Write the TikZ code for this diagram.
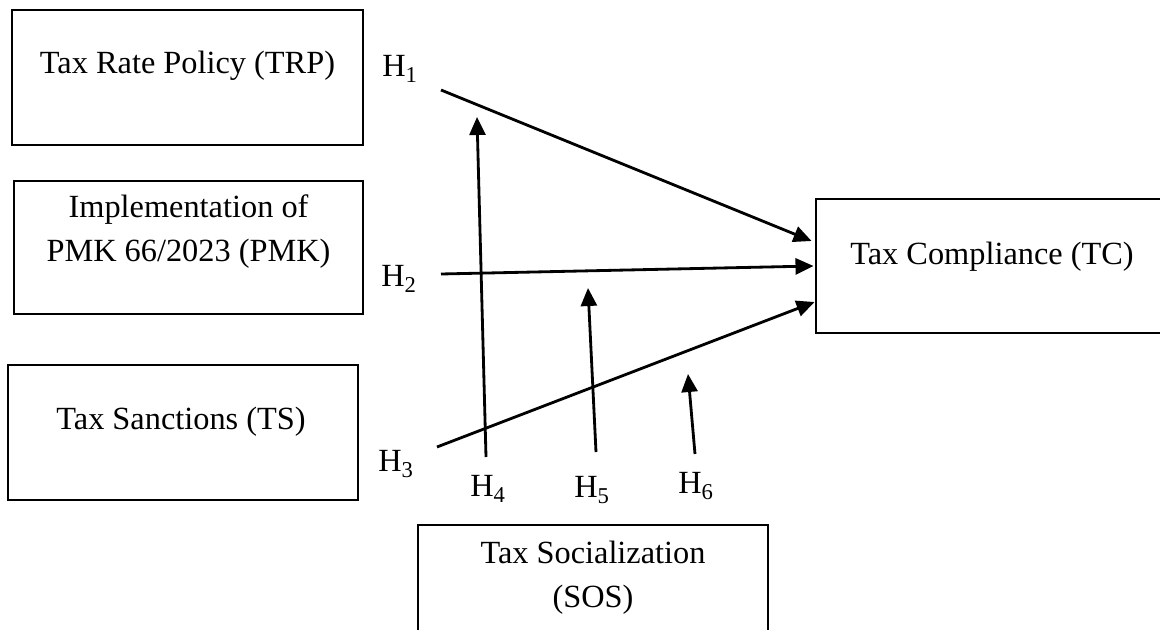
\documentclass[tikz,border=0pt]{standalone}
\usepackage{fontspec}
\setmainfont{Liberation Serif}
\usetikzlibrary{arrows.meta, calc}
\tikzstyle{factor} = [rectangle, draw=black, line width=2pt, inner sep=0pt]
\tikzstyle{boxtext} = [font=\fontsize{23}{31}\selectfont, align=center, inner sep=0pt]
\tikzstyle{hyp} = [font=\fontsize{23}{27}\selectfont, inner sep=0pt]
\tikzstyle{arrow} = [line width=2pt, -{Triangle[length=0.45cm, width=0.4cm]}]

\begin{document}
\begin{tikzpicture}[x=0.025cm, y=-0.025cm]
\useasboundingbox (0,0) rectangle (1160,630);

% boxes
\node at (187.5,77.5) (trp) [factor, minimum width=8.775cm, minimum height=3.375cm] {};
\node at (188.5,247.5) (pmk) [factor, minimum width=8.725cm, minimum height=3.325cm] {};
\node at (183,432.5) (ts) [factor, minimum width=8.75cm, minimum height=3.375cm] {};
\node at (992,266) (tc) [factor, minimum width=8.8cm, minimum height=3.35cm] {};
\node at (593,592.5) (sos) [factor, minimum width=8.75cm, minimum height=3.375cm] {};

\node at ($(trp)+(0,-12)$) (trptext) [boxtext] {Tax Rate Policy (TRP)};
\node at ($(pmk)+(0,-16)$) (pmktext) [boxtext] {Implementation of\\PMK 66/2023 (PMK)};
\node at ($(ts)+(-2,-11)$) (tstext) [boxtext] {Tax Sanctions (TS)};
\node at ($(tc)+(0,-9)$) (tctext) [boxtext] {Tax Compliance (TC)};
\node at ($(sos)+(0,-15)$) (sostext) [boxtext] {Tax Socialization\\(SOS)};

% hypotheses
\node at (400,69) (h1) [hyp] {H\textsubscript{1}};
\node at (399,279) (h2) [hyp] {H\textsubscript{2}};
\node at (396,464) (h3) [hyp] {H\textsubscript{3}};
\node at (488,489) (h4) [hyp] {H\textsubscript{4}};
\node at (592,490) (h5) [hyp] {H\textsubscript{5}};
\node at (696,486) (h6) [hyp] {H\textsubscript{6}};

\coordinate (h1from) at (441,90);
\coordinate (h2from) at (441,274);
\coordinate (h3from) at (437,447);
\coordinate (h4from) at (486,457);
\coordinate (h4to) at (477,117);
\coordinate (h5from) at (596,452);
\coordinate (h5to) at (588,288);
\coordinate (h6from) at (695,454);
\coordinate (h6to) at (688,374);

\draw [arrow] (h1from) -- ($(tc.west)+(-3,-25)$);
\draw [arrow] (h2from) -- ($(tc.west)+(-1,0)$);
\draw [arrow] (h3from) -- ($(tc.west)+(0,36)$);
\draw [arrow] (h4from) -- (h4to);
\draw [arrow] (h5from) -- (h5to);
\draw [arrow] (h6from) -- (h6to);

\end{tikzpicture}
\end{document}
